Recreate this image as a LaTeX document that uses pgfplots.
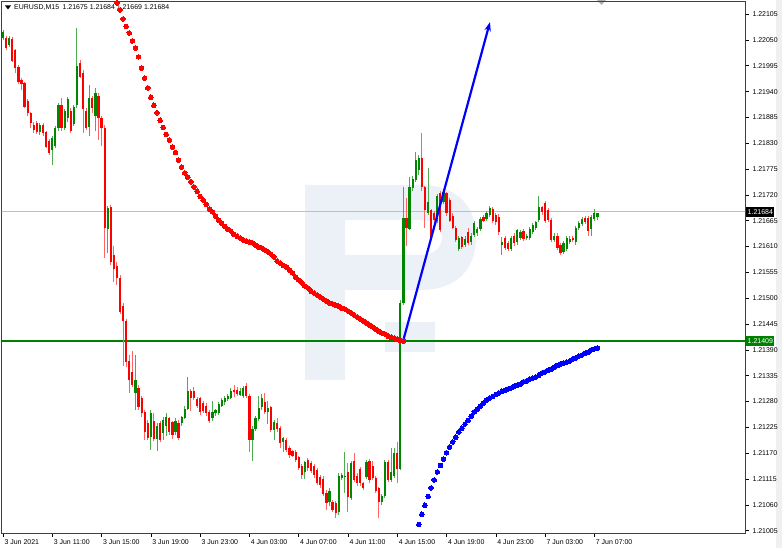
\documentclass[border=0pt]{standalone}
\usepackage{fontspec}
\setmainfont{Liberation Sans}
\usepackage{pgfplots}
\usepackage{pgfplotstable}
\pgfplotsset{compat=1.18}
\usetikzlibrary{arrows.meta}

\definecolor{bullbody}{RGB}{0,135,0}
\definecolor{bullwick}{RGB}{80,170,80}
\definecolor{bearbody}{RGB}{255,0,0}
\definecolor{bearwick}{RGB}{255,100,100}
\definecolor{mtgreen}{RGB}{0,128,0}
\definecolor{wmark}{RGB}{236,240,247}
\definecolor{dotblue}{RGB}{0,0,255}
\definecolor{dotred}{RGB}{255,0,0}

% M15 bars: bar index, open, high, low, close
\pgfplotstableread{
x o h l c
0 1.22054 1.22073 1.22052 1.22067
2 1.22039 1.22058 1.22035 1.22054
12 1.21854 1.21875 1.21849 1.21870
16 1.21816 1.21845 1.21783 1.21841
17 1.21824 1.21866 1.21820 1.21862
18 1.21862 1.21916 1.21858 1.21911
20 1.21862 1.21903 1.21858 1.21899
21 1.21884 1.21928 1.21875 1.21924
23 1.21873 1.21913 1.21868 1.21909
24 1.21911 1.22077 1.21907 1.21996
28 1.21864 1.21954 1.21847 1.21926
30 1.21890 1.21948 1.21858 1.21939
34 1.21649 1.21698 1.21597 1.21694
43 1.21300 1.21379 1.21262 1.21326
48 1.21204 1.21262 1.21177 1.21256
50 1.21202 1.21236 1.21177 1.21229
52 1.21213 1.21247 1.21198 1.21240
53 1.21229 1.21256 1.21208 1.21247
56 1.21215 1.21245 1.21210 1.21240
58 1.21234 1.21251 1.21229 1.21247
59 1.21247 1.21272 1.21243 1.21266
60 1.21266 1.21332 1.21262 1.21304
68 1.21245 1.21283 1.21240 1.21258
69 1.21256 1.21266 1.21251 1.21262
70 1.21258 1.21281 1.21253 1.21277
71 1.21272 1.21287 1.21268 1.21283
72 1.21279 1.21293 1.21274 1.21289
73 1.21287 1.21298 1.21283 1.21293
74 1.21289 1.21309 1.21285 1.21304
77 1.21295 1.21309 1.21291 1.21304
78 1.21293 1.21313 1.21289 1.21309
81 1.21198 1.21229 1.21155 1.21223
82 1.21223 1.21251 1.21219 1.21245
83 1.21245 1.21293 1.21240 1.21268
84 1.21268 1.21298 1.21264 1.21289
86 1.21258 1.21283 1.21234 1.21268
88 1.21219 1.21240 1.21198 1.21236
91 1.21194 1.21206 1.21173 1.21202
98 1.21130 1.21155 1.21117 1.21151
106 1.21066 1.21096 1.21059 1.21091
109 1.21045 1.21128 1.21040 1.21123
110 1.21119 1.21130 1.21115 1.21125
111 1.21121 1.21173 1.21085 1.21123
113 1.21076 1.21155 1.21072 1.21151
118 1.21119 1.21155 1.21115 1.21151
123 1.21066 1.21085 1.21061 1.21080
124 1.21080 1.21155 1.21076 1.21151
126 1.21113 1.21181 1.21109 1.21130
127 1.21123 1.21181 1.21119 1.21171
129 1.21138 1.21496 1.21134 1.21490
130 1.21490 1.21737 1.21485 1.21671
132 1.21649 1.21758 1.21645 1.21737
133 1.21737 1.21762 1.21730 1.21756
134 1.21752 1.21812 1.21748 1.21794
135 1.21773 1.21805 1.21762 1.21799
138 1.21682 1.21777 1.21677 1.21705
141 1.21666 1.21724 1.21662 1.21719
143 1.21705 1.21730 1.21700 1.21726
148 1.21607 1.21634 1.21603 1.21630
150 1.21613 1.21632 1.21609 1.21626
152 1.21620 1.21639 1.21615 1.21634
153 1.21636 1.21666 1.21632 1.21662
154 1.21639 1.21653 1.21634 1.21649
155 1.21649 1.21673 1.21645 1.21669
157 1.21671 1.21686 1.21666 1.21682
158 1.21677 1.21696 1.21673 1.21692
162 1.21613 1.21630 1.21592 1.21620
165 1.21607 1.21634 1.21603 1.21630
167 1.21620 1.21649 1.21615 1.21645
168 1.21628 1.21645 1.21624 1.21641
170 1.21628 1.21636 1.21624 1.21632
171 1.21630 1.21653 1.21626 1.21649
172 1.21641 1.21660 1.21636 1.21655
173 1.21649 1.21666 1.21645 1.21662
174 1.21666 1.21719 1.21662 1.21694
179 1.21624 1.21639 1.21620 1.21634
182 1.21599 1.21622 1.21594 1.21618
183 1.21607 1.21634 1.21603 1.21630
184 1.21620 1.21632 1.21615 1.21628
186 1.21620 1.21655 1.21615 1.21651
187 1.21651 1.21666 1.21647 1.21662
188 1.21660 1.21675 1.21655 1.21671
191 1.21649 1.21677 1.21634 1.21673
192 1.21671 1.21692 1.21666 1.21682
193 1.21675 1.21684 1.21669 1.21684
}\bull

\pgfplotstableread{
x o h l c
1 1.22054 1.22058 1.22029 1.22033
3 1.22054 1.22056 1.22003 1.22007
4 1.22029 1.22033 1.21982 1.21990
5 1.21992 1.21996 1.21956 1.21961
6 1.21965 1.21969 1.21943 1.21956
7 1.21959 1.21961 1.21905 1.21907
8 1.21922 1.21926 1.21890 1.21895
9 1.21895 1.21897 1.21864 1.21875
10 1.21870 1.21875 1.21852 1.21860
11 1.21875 1.21879 1.21852 1.21856
13 1.21870 1.21875 1.21847 1.21852
14 1.21854 1.21858 1.21820 1.21824
15 1.21835 1.21839 1.21805 1.21810
19 1.21911 1.21928 1.21858 1.21862
22 1.21901 1.21905 1.21852 1.21858
25 1.22001 1.22007 1.21969 1.21973
26 1.21982 1.21986 1.21852 1.21905
27 1.21901 1.21905 1.21858 1.21864
29 1.21926 1.21932 1.21897 1.21905
31 1.21932 1.21937 1.21837 1.21884
32 1.21884 1.21890 1.21826 1.21864
33 1.21864 1.21868 1.21586 1.21649
35 1.21694 1.21698 1.21570 1.21577
36 1.21592 1.21613 1.21535 1.21564
37 1.21570 1.21577 1.21528 1.21545
38 1.21545 1.21549 1.21466 1.21471
39 1.21485 1.21490 1.21357 1.21453
40 1.21453 1.21458 1.21355 1.21364
41 1.21368 1.21379 1.21298 1.21326
42 1.21343 1.21390 1.21313 1.21317
44 1.21309 1.21315 1.21262 1.21268
45 1.21289 1.21293 1.21249 1.21256
46 1.21258 1.21262 1.21198 1.21215
47 1.21236 1.21240 1.21198 1.21204
49 1.21240 1.21256 1.21196 1.21202
51 1.21234 1.21240 1.21194 1.21198
54 1.21245 1.21249 1.21210 1.21215
55 1.21236 1.21240 1.21202 1.21208
57 1.21236 1.21240 1.21198 1.21204
61 1.21304 1.21309 1.21262 1.21289
62 1.21304 1.21311 1.21283 1.21289
63 1.21287 1.21291 1.21266 1.21272
64 1.21287 1.21291 1.21253 1.21258
65 1.21279 1.21283 1.21258 1.21262
66 1.21272 1.21277 1.21251 1.21256
67 1.21258 1.21262 1.21236 1.21240
75 1.21304 1.21317 1.21291 1.21302
76 1.21307 1.21311 1.21293 1.21298
79 1.21315 1.21320 1.21289 1.21293
80 1.21293 1.21298 1.21173 1.21198
85 1.21279 1.21298 1.21253 1.21258
87 1.21268 1.21272 1.21215 1.21219
89 1.21234 1.21245 1.21215 1.21223
90 1.21225 1.21229 1.21183 1.21192
92 1.21198 1.21202 1.21173 1.21177
93 1.21181 1.21185 1.21160 1.21166
94 1.21177 1.21177 1.21162 1.21166
95 1.21173 1.21177 1.21151 1.21155
96 1.21162 1.21166 1.21136 1.21140
97 1.21144 1.21149 1.21117 1.21123
99 1.21155 1.21160 1.21134 1.21138
100 1.21151 1.21155 1.21130 1.21134
101 1.21144 1.21149 1.21119 1.21123
102 1.21134 1.21138 1.21102 1.21107
103 1.21119 1.21123 1.21096 1.21102
104 1.21117 1.21121 1.21080 1.21085
105 1.21087 1.21091 1.21049 1.21066
107 1.21066 1.21070 1.21045 1.21049
108 1.21066 1.21070 1.21034 1.21045
112 1.21130 1.21151 1.21045 1.21076
114 1.21155 1.21171 1.21109 1.21113
115 1.21123 1.21128 1.21102 1.21107
116 1.21138 1.21142 1.21102 1.21107
117 1.21107 1.21111 1.21094 1.21098
119 1.21155 1.21160 1.21109 1.21113
120 1.21144 1.21155 1.21113 1.21117
121 1.21119 1.21123 1.21087 1.21091
122 1.21096 1.21100 1.21034 1.21066
125 1.21151 1.21155 1.21109 1.21113
128 1.21171 1.21194 1.21107 1.21138
131 1.21671 1.21715 1.21613 1.21649
136 1.21799 1.21852 1.21730 1.21737
137 1.21737 1.21741 1.21651 1.21688
139 1.21688 1.21692 1.21624 1.21628
140 1.21682 1.21686 1.21662 1.21666
142 1.21724 1.21728 1.21641 1.21645
144 1.21724 1.21728 1.21677 1.21682
145 1.21709 1.21713 1.21662 1.21666
146 1.21677 1.21682 1.21647 1.21651
147 1.21651 1.21655 1.21620 1.21624
149 1.21630 1.21634 1.21605 1.21609
151 1.21641 1.21649 1.21613 1.21618
156 1.21673 1.21677 1.21662 1.21666
159 1.21692 1.21696 1.21662 1.21666
160 1.21677 1.21682 1.21657 1.21662
161 1.21675 1.21679 1.21636 1.21641
163 1.21628 1.21632 1.21603 1.21607
164 1.21618 1.21622 1.21601 1.21605
166 1.21634 1.21639 1.21613 1.21618
169 1.21645 1.21649 1.21624 1.21628
175 1.21694 1.21698 1.21679 1.21684
176 1.21705 1.21709 1.21662 1.21666
177 1.21688 1.21692 1.21662 1.21666
178 1.21666 1.21671 1.21620 1.21624
180 1.21634 1.21639 1.21603 1.21607
181 1.21613 1.21618 1.21592 1.21597
185 1.21630 1.21634 1.21620 1.21624
189 1.21671 1.21675 1.21657 1.21662
190 1.21671 1.21675 1.21634 1.21645
}\bear

\pgfplotstableread{
x y
37 1.22129
38 1.22114
39 1.22095
40 1.22079
41 1.22065
42 1.22048
43 1.22033
44 1.22014
45 1.21990
46 1.21969
47 1.21948
48 1.21928
49 1.21911
50 1.21895
51 1.21879
52 1.21864
53 1.21849
54 1.21837
55 1.21822
56 1.21810
57 1.21794
58 1.21779
59 1.21767
60 1.21758
61 1.21748
62 1.21737
63 1.21728
64 1.21717
65 1.21709
66 1.21700
67 1.21690
68 1.21684
69 1.21675
70 1.21666
71 1.21660
72 1.21653
73 1.21647
74 1.21643
75 1.21636
76 1.21632
77 1.21628
78 1.21624
79 1.21622
80 1.21620
81 1.21618
82 1.21613
83 1.21609
84 1.21607
85 1.21603
86 1.21599
87 1.21594
88 1.21588
89 1.21579
90 1.21575
91 1.21570
92 1.21566
93 1.21560
94 1.21554
95 1.21545
96 1.21539
97 1.21533
98 1.21526
99 1.21522
100 1.21515
101 1.21511
102 1.21507
103 1.21503
104 1.21498
105 1.21494
106 1.21490
107 1.21488
108 1.21485
109 1.21483
110 1.21479
111 1.21477
112 1.21473
113 1.21469
114 1.21464
115 1.21460
116 1.21456
117 1.21451
118 1.21447
119 1.21443
120 1.21439
121 1.21434
122 1.21430
123 1.21426
124 1.21424
125 1.21419
126 1.21417
127 1.21415
128 1.21413
129 1.21410
130 1.21409
}\reddots

\pgfplotstableread{
x y
134 1.20997
135 1.21018
136 1.21040
137 1.21059
138 1.21078
139 1.21096
140 1.21113
141 1.21130
142 1.21144
143 1.21157
144 1.21171
145 1.21183
146 1.21194
147 1.21204
148 1.21215
149 1.21223
150 1.21232
151 1.21240
152 1.21249
153 1.21258
154 1.21264
155 1.21270
156 1.21277
157 1.21283
158 1.21287
159 1.21291
160 1.21295
161 1.21298
162 1.21302
163 1.21304
164 1.21307
165 1.21309
166 1.21313
167 1.21315
168 1.21317
169 1.21322
170 1.21324
171 1.21328
172 1.21330
173 1.21332
174 1.21336
175 1.21341
176 1.21343
177 1.21347
178 1.21349
179 1.21353
180 1.21357
181 1.21360
182 1.21362
183 1.21364
184 1.21366
185 1.21371
186 1.21373
187 1.21377
188 1.21379
189 1.21383
190 1.21385
191 1.21390
192 1.21392
193 1.21394
}\bluedots

\begin{document}
\begin{tikzpicture}
\fill[white] (0,0) rectangle (782bp,548bp);

% watermark logo and window furniture, in pixel coordinates
\begin{scope}[x=1bp,y=-1bp,yshift=548bp]
  \fill[wmark, even odd rule]
    (305,185) -- (420,185) .. controls (456,185) and (476,205) .. (476,237)
    .. controls (476,270) and (456,290) .. (420,290) -- (345,290) -- (345,380)
    -- (305,380) -- cycle
    (345,220) -- (420,220) .. controls (436,220) and (442,229) .. (442,237)
    .. controls (442,246) and (436,255) .. (420,255) -- (345,255) -- cycle;
  \fill[wmark] (385,322) rectangle (435,352);
  \fill[black!6] (776,0) rectangle (782,548);
  \fill[black!30] (597,0) -- (606,0) -- (601.5,5) -- cycle;
  \fill[black] (5,5.5) -- (11,5.5) -- (8,9.5) -- cycle;
  \node[anchor=west, inner sep=0pt, font=\fontsize{7}{8}\selectfont] at (14,7.5)
    {EURUSD,M15\enspace 1.21675 1.21684 1.21669 1.21684};
\end{scope}

\begin{axis}[
  at={(1.5bp,15bp)}, anchor=south west,
  scale only axis, width=743.5bp, height=532bp,
  xmin=-0.49, xmax=240.9, ymin=1.21000, ymax=1.22133,
  axis line style={black!75, line width=0.7bp},
  tick align=outside, xtick pos=bottom, ytick pos=right, yticklabel pos=right,
  major tick length=4bp,
  tick style={black, line width=0.6bp},
  xtick={0,16,...,192},
  xticklabels={3 Jun 2021, 3 Jun 11:00, 3 Jun 15:00, 3 Jun 19:00, 3 Jun 23:00,
    4 Jun 03:00, 4 Jun 07:00, 4 Jun 11:00, 4 Jun 15:00, 4 Jun 19:00,
    4 Jun 23:00, 7 Jun 03:00, 7 Jun 07:00},
  ytick={1.21005,1.21060,1.21115,1.21170,1.21225,1.21280,1.21335,1.21390,
    1.21445,1.21500,1.21555,1.21610,1.21665,1.21720,1.21775,1.21830,
    1.21885,1.21940,1.21995,1.22050,1.22105},
  scaled y ticks=false,
  ticklabel style={font=\fontsize{7}{8}\selectfont},
  x tick label style={anchor=north west, xshift=-2bp, yshift=1bp},
  yticklabel style={/pgf/number format/.cd, fixed, fixed zerofill, precision=5,
    assume math mode=true},
]
% price lines
\addplot[black!25, line width=0.8bp] coordinates {(-5,1.21684) (250,1.21684)};
\addplot[mtgreen, line width=1.3bp] coordinates {(-5,1.21409) (250,1.21409)};

% wicks
\addplot[draw=none, mark=none, error bars/.cd, y dir=both, y explicit,
  error mark=none, error bar style={draw=bullwick, solid, line width=1bp}]
  table[x=x, y expr={(\thisrow{h}+\thisrow{l})/2},
        y error expr={(\thisrow{h}-\thisrow{l})/2}] {\bull};
\addplot[draw=none, mark=none, error bars/.cd, y dir=both, y explicit,
  error mark=none, error bar style={draw=bearwick, solid, line width=1bp}]
  table[x=x, y expr={(\thisrow{h}+\thisrow{l})/2},
        y error expr={(\thisrow{h}-\thisrow{l})/2}] {\bear};
% bodies
\addplot[draw=none, mark=none, error bars/.cd, y dir=both, y explicit,
  error mark=none, error bar style={draw=bullbody, solid, line width=2.2bp}]
  table[x=x, y expr={(\thisrow{o}+\thisrow{c})/2},
        y error expr={abs(\thisrow{c}-\thisrow{o})/2}] {\bull};
\addplot[draw=none, mark=none, error bars/.cd, y dir=both, y explicit,
  error mark=none, error bar style={draw=bearbody, solid, line width=2.2bp}]
  table[x=x, y expr={(\thisrow{o}+\thisrow{c})/2},
        y error expr={abs(\thisrow{o}-\thisrow{c})/2}] {\bear};

% indicator dots
\addplot[dotred, only marks, mark=*, mark size=2.3bp,
  mark options={draw=dotred, fill=dotred, line width=0pt}]
  table[x=x, y=y] {\reddots};
\addplot[dotblue, only marks, mark=*, mark size=2.3bp,
  mark options={draw=dotblue, fill=dotblue, line width=0pt}]
  table[x=x, y=y] {\bluedots};

% trend arrow
\addplot[dotblue, line width=2.2bp, -{Stealth[length=9bp, width=6.5bp]}]
  coordinates {(129.9,1.21409) (158.1,1.22088)};

\coordinate (lblA) at (axis cs:240.9,1.21684);
\coordinate (lblB) at (axis cs:240.9,1.21409);
\end{axis}

\node[anchor=west, fill=black, text=white, inner xsep=1.5bp, inner ysep=2.5bp,
  font=\fontsize{7}{8}\selectfont, xshift=1bp] at (lblA) {1.21684};
\node[anchor=west, fill=mtgreen, text=white, inner xsep=1.5bp, inner ysep=2.5bp,
  font=\fontsize{7}{8}\selectfont, xshift=1bp] at (lblB) {1.21409};

\pgfresetboundingbox
\path (0,0) rectangle (782bp,548bp);
\end{tikzpicture}
\end{document}
